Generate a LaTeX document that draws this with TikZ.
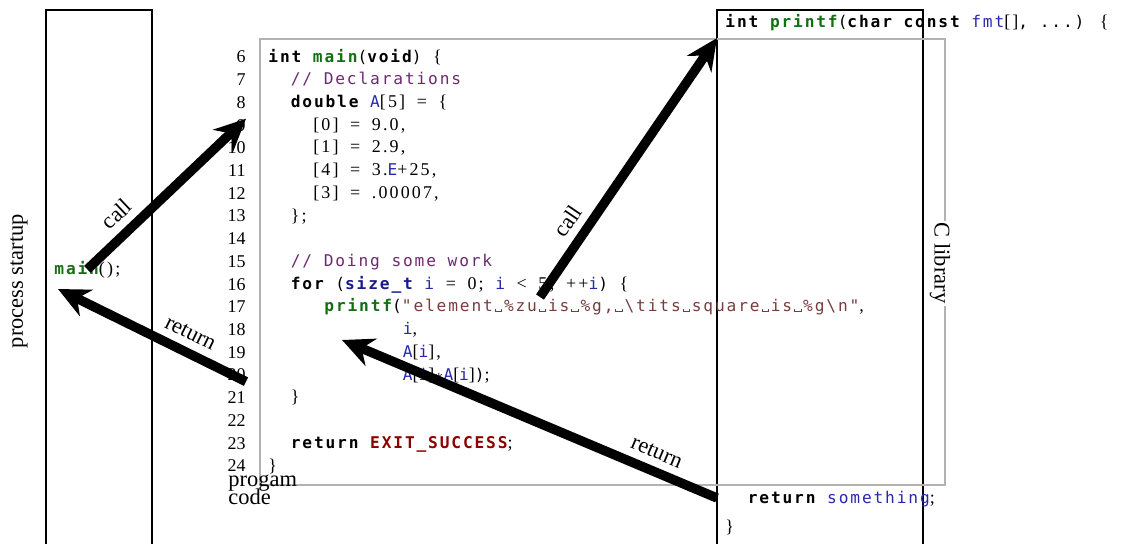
\documentclass[tikz,border=0pt]{standalone}
\usepackage{fontspec}
\setmainfont{Liberation Serif}
\newfontfamily\codemono[LetterSpace=11.5]{DejaVu Sans Mono}
\newfontfamily\codeserif[LetterSpace=12]{Liberation Serif}
\usetikzlibrary{arrows.meta}

\definecolor{fncolor}{RGB}{20,110,20}
\definecolor{idcolor}{RGB}{40,40,170}
\definecolor{tycolor}{RGB}{25,25,140}
\definecolor{cmcolor}{RGB}{110,40,110}
\definecolor{stcolor}{RGB}{120,60,60}
\definecolor{excolor}{RGB}{140,0,0}

\newcommand\kw[1]{{\bfseries #1}}
\newcommand\fn[1]{{\bfseries\color{fncolor}#1}}
\newcommand\id[1]{{\color{idcolor}#1}}
\newcommand\ty[1]{{\bfseries\color{tycolor}#1}}
\newcommand\cm[1]{{\color{cmcolor}#1}}
\newcommand\st[1]{{\color{stcolor}#1}}
\newcommand\ex[1]{{\bfseries\color{excolor}#1}}
\newcommand\sr[1]{{\codeserif\fontsize{8}{8}\selectfont #1}}
\newcommand\vs{\makebox[4.95pt]{\rule{0.3pt}{1.2pt}\rule{2.6pt}{0.3pt}\rule{0.3pt}{1.2pt}}}

\begin{document}
\begin{tikzpicture}[x=0.445pt, y=-0.445pt,
    code/.style={anchor=base west, inner sep=0pt, font=\codemono\fontsize{7.2}{8}\selectfont},
    lnum/.style={anchor=east, inner sep=0pt, font=\fontsize{8}{8}\selectfont},
    flow/.style={-{Stealth[length=14pt, width=13pt]}, line width=4.2pt},
    lbl/.style={sloped, above, font=\fontsize{10}{12}\selectfont}]

  \useasboundingbox (0,0) rectangle (1122,543);

  \draw[line width=0.9pt] (46,10) rectangle (152,560);
  \draw[line width=0.9pt] (717,10) rectangle (923,560);
  \draw[gray!60, line width=0.5pt] (260,39) rectangle (945,485);

  \node[rotate=90] (startlbl) at (19,281) {process startup};
  \node[rotate=-90, fill=white, inner sep=1pt] (liblbl) at (940,263) {C library};
  \node[align=left, anchor=base west, inner sep=0pt] (codelbl) at (228,504) {progam\\[-4pt]code};

  \node[code] (maincall) at (54,274) {\fn{main}\sr{();}};

  \foreach \n in {6,...,24}
    \node[lnum] (ln\n) at (246,{57+(\n-6)*22.72}) {\n};

  \node[code] (l6) at (268,62) {\kw{int} \fn{main}(\kw{void}) \sr{\{}};
  \node[code] (l7) at (290.4,84.7) {\cm{// Declarations}};
  \node[code] (l8) at (290.4,107.4) {\kw{double} \id{A}\sr{[5]} \sr{=} \sr{\{}};
  \node[code] (l9) at (312.8,130.2) {\sr{[0]} \sr{=} \sr{9.0,}};
  \node[code] (l10) at (312.8,152.9) {\sr{[1]} \sr{=} \sr{2.9,}};
  \node[code] (l11) at (312.8,175.6) {\sr{[4]} \sr{=} \sr{3.}\id{E}\sr{+25,}};
  \node[code] (l12) at (312.8,198.3) {\sr{[3]} \sr{=} \sr{.00007,}};
  \node[code] (l13) at (290.4,221) {\sr{\};}};
  \node[code] (l15) at (290.4,266.5) {\cm{// Doing some work}};
  \node[code] (l16) at (290.4,289.2) {\kw{for} (\ty{size\_t} \id{i} \sr{=} \sr{0;} \id{i} \sr{<} \sr{5;} \sr{++}\id{i}) \sr{\{}};
  \node[code] (l17) at (324,311.9) {\fn{printf}(\st{"element\vs\%zu\vs is\vs\%g,\vs\textbackslash tits\vs square\vs is\vs\%g\textbackslash n"}\sr{,}};
  \node[code] (l18) at (402.4,334.6) {\id{i}\sr{,}};
  \node[code] (l19) at (402.4,357.4) {\id{A}\sr{[}\id{i}\sr{],}};
  \node[code] (l20) at (402.4,380.1) {\id{A}\sr{[}\id{i}\sr{]}$\ast$\id{A}\sr{[}\id{i}\sr{]})\sr{;}};
  \node[code] (l21) at (290.4,402.8) {\sr{\}}};
  \node[code] (l23) at (290.4,448.2) {\kw{return} \ex{EXIT\_SUCCESS}\sr{;}};
  \node[code] (l24) at (268,471) {\sr{\}}};

  \node[code] (libhead) at (725,27) {\kw{int} \fn{printf}(\kw{char} \kw{const} \id{fmt}\sr{[]}, ...) \sr{\{}};
  \node[code] (retsome) at (747.4,503) {\kw{return} \id{something}\sr{;}};
  \node[code] (libclose) at (725,532) {\sr{\}}};

  \coordinate (mainret) at (58,289);
  \coordinate (forcall) at (540,297);
  \coordinate (libentry) at (717,38);
  \coordinate (libret) at (717,498);
  \coordinate (printfret) at (342,340);

  \draw[flow] (maincall.center) -- node[lbl, pos=0.27] {call} (ln9.north east);
  \draw[flow] (ln20.south east) -- node[lbl, pos=0.34] {return} (mainret);
  \draw[flow] (forcall) -- node[lbl, pos=0.25] {call} (libentry);
  \draw[flow] (libret) -- node[lbl, pos=0.18] {return} (printfret);

\end{tikzpicture}
\end{document}
